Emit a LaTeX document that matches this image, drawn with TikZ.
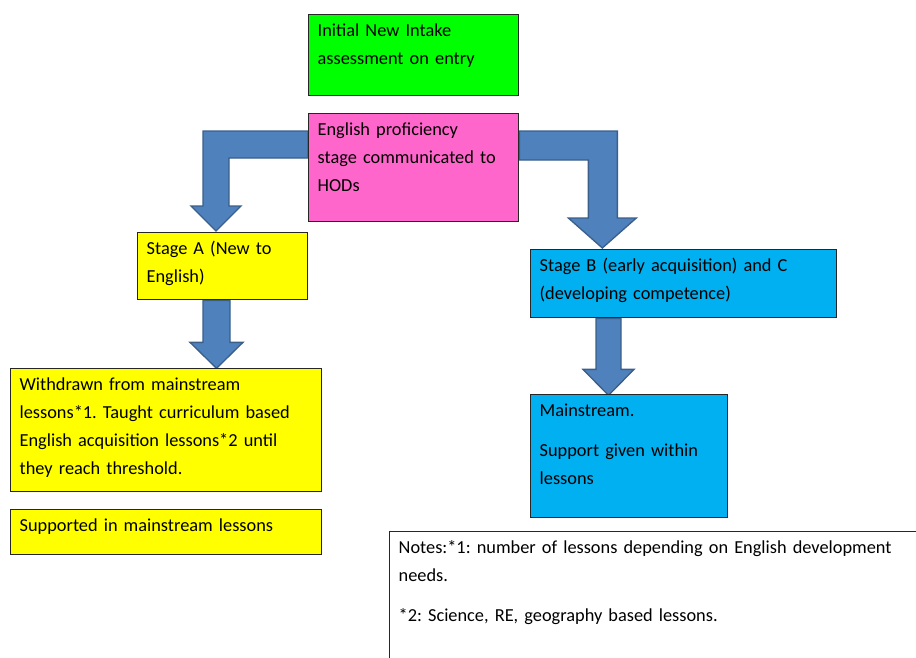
\documentclass[tikz,border=0pt]{standalone}
\usepackage{fontspec}
\setmainfont{Carlito}
\usetikzlibrary{backgrounds}
\frenchspacing

\definecolor{intakegreen}{HTML}{00FF00}
\definecolor{hodpink}{HTML}{FF66CC}
\definecolor{stageyellow}{HTML}{FFFF00}
\definecolor{stageblue}{HTML}{00B0F0}
\definecolor{arrowfill}{HTML}{4F81BD}
\definecolor{arrowline}{HTML}{3A5F8B}

\tikzset{
  stagebox/.style={draw=black!85, line width=0.8pt, anchor=north west, align=left,
    inner xsep=5.4pt, inner ysep=0pt, text height=13.2pt,
    font=\fontsize{11}{16.8}\selectfont},
  bigarrow/.style={fill=arrowfill, draw=arrowline, line width=0.8pt, line join=miter}
}

\begin{document}
\begin{tikzpicture}[x=0.6pt, y=-0.6pt]
  \useasboundingbox (0,0) rectangle (916,657);
  \clip (0,0) rectangle (916,657);

  % Drawing box intake
  \node[stagebox, fill=intakegreen, text width=115.2pt, text depth=35.4pt] (intake) at (308,14)
    {Initial New Intake\\assessment on entry};

  % Drawing box hods
  \node[stagebox, fill=hodpink, text width=115.2pt, text depth=51.6pt] (hods) at (308,113)
    {English proficiency\\stage communicated to\\HODs};

  % Drawing box stage A
  \node[stagebox, fill=stageyellow, text width=91.2pt, text depth=27pt] (stageA) at (137,232)
    {Stage A (New to\\English)};

  % Drawing box stage B and C
  \node[stagebox, fill=stageblue, text width=172.8pt, text depth=27.6pt] (stageBC) at (530,249)
    {Stage B (early acquisition) and C\\(developing competence)};

  % Drawing box withdrawn
  \node[stagebox, fill=stageyellow, text width=175.8pt, text depth=60.6pt] (withdrawn) at (10,368)
    {Withdrawn from mainstream\\lessons*1. Taught curriculum based\\English acquisition lessons*2 until\\they reach threshold.};

  % Drawing box supported
  \node[stagebox, fill=stageyellow, text width=175.8pt, text depth=13.8pt] (supported) at (10,509)
    {Supported in mainstream lessons};

  % Drawing box mainstream
  \node[stagebox, fill=stageblue, text width=107.4pt, text depth=60.6pt] (mainstream) at (530,394)
    {Mainstream.\\[7.2pt]Support given within\\lessons};

  % Drawing box notes
  \node[stagebox, fill=white, text width=319.8pt, text depth=76.2pt] (notes) at (389,531)
    {Notes:*1: number of lessons depending on English development\\needs.\\[7.2pt]*2: Science, RE, geography based lessons.};

  \begin{pgfonlayer}{background}
    % Drawing bent arrow hods to stage A
    \draw[bigarrow] (hods.north west) ++(0,18) -- ++(-105,0) -- ++(0,75) -- ++(-12,0)
      -- ++(25,25) -- ++(25,-25) -- ++(-12,0) -- ++(0,-48) -- ++(79,0) -- cycle;

    % Drawing bent arrow hods to stage B and C
    \draw[bigarrow] (hods.north east) ++(0,18) -- ++(98,0) -- ++(0,87) -- ++(19,0)
      -- ++(-34,30) -- ++(-34,-30) -- ++(20,0) -- ++(0,-58) -- ++(-69,0) -- cycle;

    % Drawing arrow stage A to withdrawn
    \draw[bigarrow] (stageA.south west) ++(66,0) -- ++(0,42) -- ++(-13,0)
      -- ++(26.5,26) -- ++(26.5,-26) -- ++(-13,0) -- ++(0,-42) -- cycle;

    % Drawing arrow stage B and C to mainstream
    \draw[bigarrow] (stageBC.south west) ++(66,0) -- ++(0,51) -- ++(-13,0)
      -- ++(25.5,26) -- ++(25.5,-26) -- ++(-13,0) -- ++(0,-51) -- cycle;
  \end{pgfonlayer}
\end{tikzpicture}
\end{document}
